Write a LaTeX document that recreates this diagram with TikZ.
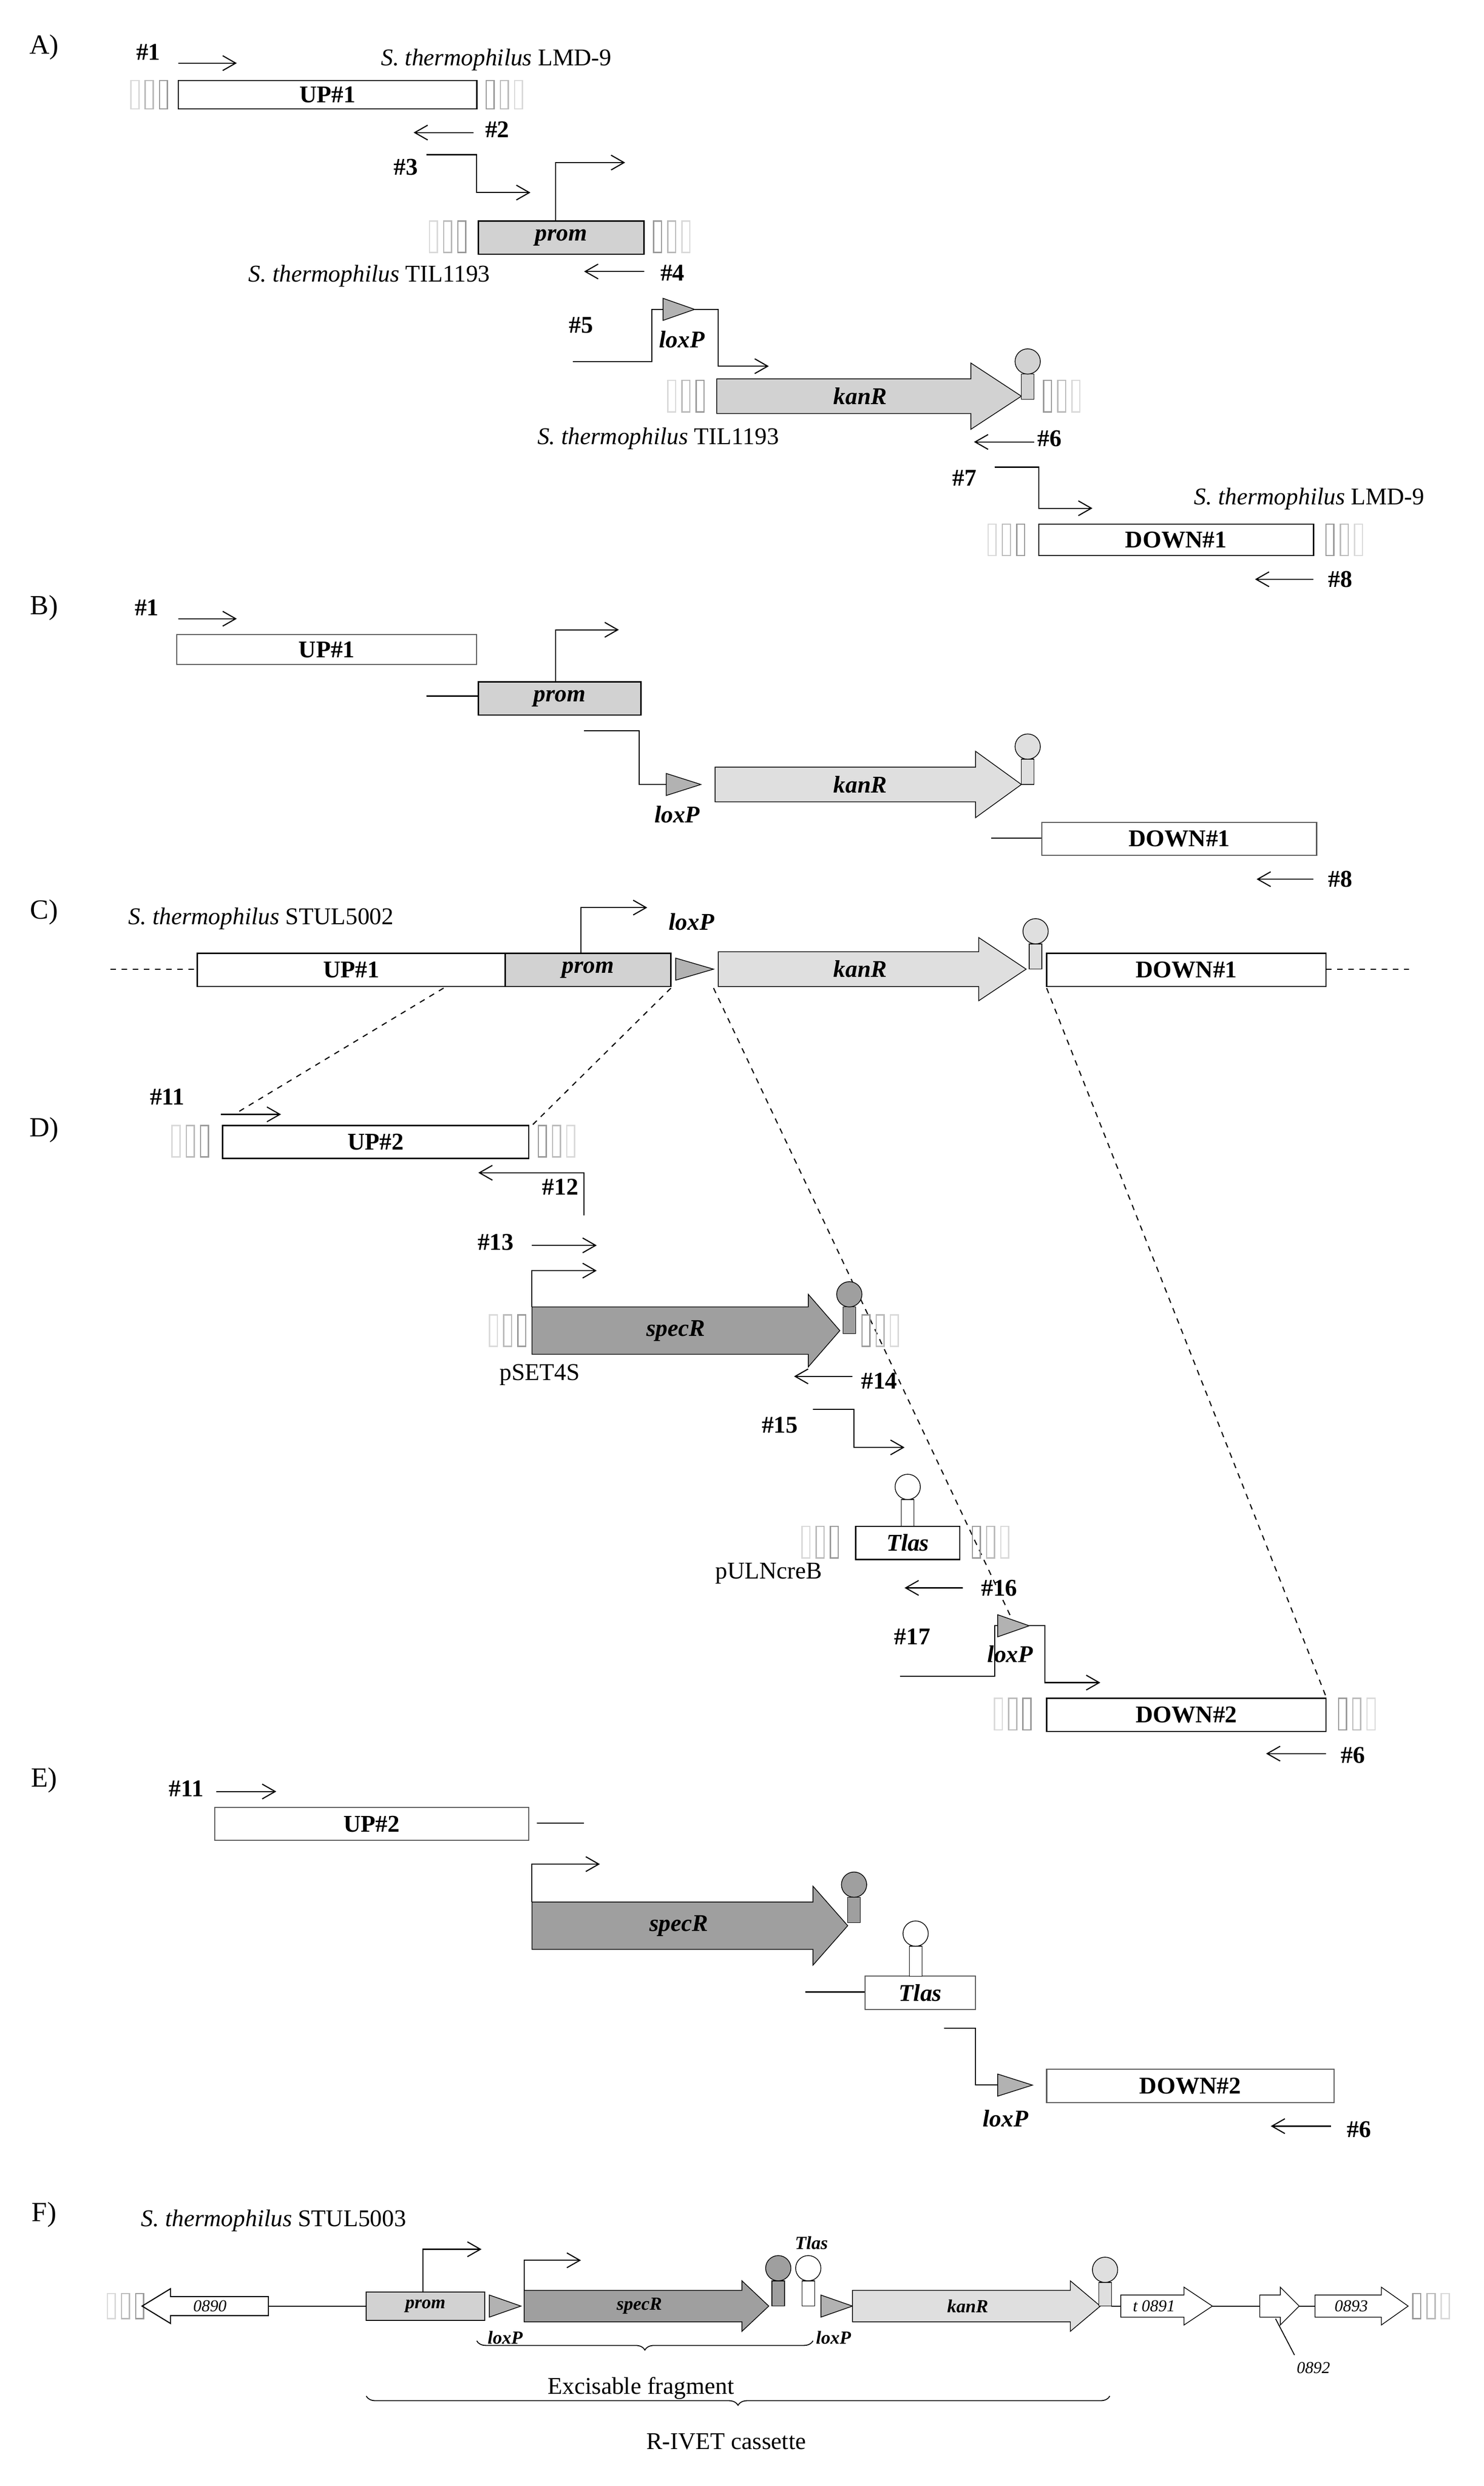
\documentclass[tikz,border=0pt]{standalone}
\usepackage{fontspec}
\setmainfont{Liberation Serif}
\usetikzlibrary{arrows.meta,decorations.pathreplacing}
\newcommand\stripesL[3]{%
 \draw[gray!30,line width=0.7pt] (#1,#2-#3) rectangle ++(5,2*#3);
 \draw[gray!55,line width=0.7pt] (#1+9,#2-#3) rectangle ++(5,2*#3);
 \draw[gray!80,line width=0.7pt] (#1+18,#2-#3) rectangle ++(5,2*#3);}
\newcommand\stripesR[3]{%
 \draw[gray!80,line width=0.7pt] (#1,#2-#3) rectangle ++(5,2*#3);
 \draw[gray!55,line width=0.7pt] (#1+9,#2-#3) rectangle ++(5,2*#3);
 \draw[gray!30,line width=0.7pt] (#1+18,#2-#3) rectangle ++(5,2*#3);}
\newcommand\garrow[7]{\draw[fill=#7] (#1,#4-#5) -- (#2,#4-#5) -- (#2,#4-#6) -- (#3,#4) -- (#2,#4+#6) -- (#2,#4+#5) -- (#1,#4+#5) -- cycle;}
\newcommand\loxp[3][20]{\draw[fill=gray!60] (#2,#3-7) -- (#2+#1,#3) -- (#2,#3+7) -- cycle;}
\newcommand\term[4]{\draw[fill=#3] (#1-4,#2) rectangle (#1+4,#2-#4); \draw[fill=#3] (#1,#2-#4-8) circle (8);}
\tikzset{x=0.03cm,y=-0.03cm,
 pr/.style={-{Straight Barb[length=7pt,width=8pt]},line width=0.6pt},
 ln/.style={line width=0.6pt},
 lab/.style={font=\bfseries\fontsize{13}{15}\selectfont,inner sep=1pt},
 gl/.style={font=\bfseries\itshape\fontsize{13}{15}\selectfont},
 sp/.style={font=\fontsize{13}{15}\selectfont,inner sep=1pt},
 pl/.style={font=\fontsize{15}{17}\selectfont},
 sm/.style={font=\itshape\fontsize{9}{10}\selectfont,inner sep=0pt},
 fg/.style={font=\bfseries\itshape\fontsize{10}{11}\selectfont}}
\begin{document}
\begin{tikzpicture}
\useasboundingbox (0,0) rectangle (940,1575);
\fill[white] (0,0) rectangle (940,1575);
% ================= A
\node[pl] (pA) at (28,30) {A)};
\node[lab] (p1) at (94,33) {\#1};
\draw[pr] (113,40) -- (150,40);
\node[sp,anchor=west] (s1) at (240,38) {\textit{S. thermophilus} LMD-9};
\stripesL{83}{60}{9}\stripesR{308}{60}{9}
\draw[line width=0.7pt] (113,51) rectangle (302,69) node[midway,lab] (up1) {UP\#1};
\draw[pr] (300,84) -- (262,84); \node[lab] (p2) at (315,82) {\#2};
\node[lab] (p3) at (257,106) {\#3};
\draw[pr] (270,98) -- (302,98) -- (302,122) -- (336,122);
\stripesL{272}{150}{10}\stripesR{414}{150}{10}
\draw[line width=0.7pt,fill=gray!35] (303,140) rectangle (408,161) node[midway,gl] (prA) {prom};
\draw[pr] (352,140) -- (352,103) -- (396,103);
\node[sp,anchor=west] (s2) at (156,175) {\textit{S. thermophilus} TIL1193};
\draw[pr] (408,172) -- (370,172); \node[lab] (p4) at (426,173) {\#4};
\node[lab] (p5) at (368,206) {\#5};
\draw[ln] (363,229) -- (413,229) -- (413,196) -- (420,196);
\loxp{420}{196}
\draw[pr] (440,196) -- (455,196) -- (455,232) -- (487,232);
\node[gl] (lxA) at (432,215) {loxP};
\stripesL{423}{251}{10}\stripesR{661}{251}{10}
\garrow{454}{615}{647}{251}{11}{21}{gray!35}
\node[gl] (kA) at (545,251) {kanR};
\term{651}{253}{gray!35}{16}
\node[sp,anchor=west] (s3) at (339,278) {\textit{S. thermophilus} TIL1193};
\draw[pr] (655,280) -- (617,280); \node[lab] (p6) at (665,278) {\#6};
\node[lab] (p7) at (611,303) {\#7};
\draw[pr] (630,296) -- (658,296) -- (658,322) -- (692,322);
\node[sp,anchor=west] (s4) at (755,316) {\textit{S. thermophilus} LMD-9};
\stripesL{626}{342}{10}\stripesR{840}{342}{10}
\draw[line width=0.7pt] (658,332) rectangle (832,352) node[midway,lab] (dn1) {DOWN\#1};
\draw[pr] (832,367) -- (795,367); \node[lab] (p8) at (849,367) {\#8};
% ================= B
\node[pl] (pB) at (28,385) {B)};
\node[lab] (b1) at (93,385) {\#1};
\draw[pr] (113,392) -- (150,392);
\draw[line width=0.6pt,draw=gray!70!black] (112,402) rectangle (302,421) node[midway,lab,text=black] (upB) {UP\#1};
\draw[ln] (270,441) -- (303,441);
\draw[line width=0.7pt,fill=gray!35] (303,432) rectangle (406,453) node[midway,gl] (prB) {prom};
\draw[pr] (352,432) -- (352,399) -- (392,399);
\draw[ln] (370,463) -- (405,463) -- (405,497) -- (422,497);
\loxp[22]{422}{497}
\node[gl] (lxB) at (429,516) {loxP};
\garrow{453}{618}{647}{497}{11}{21}{gray!25}
\node[gl] (kB) at (545,497) {kanR};
\term{651}{497}{gray!25}{16}
\draw[ln] (628,531) -- (660,531);
\draw[line width=0.6pt,draw=gray!70!black] (660,521) rectangle (834,542) node[midway,lab,text=black] (dnB) {DOWN\#1};
\draw[pr] (832,557) -- (796,557); \node[lab] (b8) at (849,557) {\#8};
% ================= C
\node[pl] (pC) at (28,578) {C)};
\node[sp,anchor=west] (s5) at (80,582) {\textit{S. thermophilus} STUL5002};
\draw[ln,dashed] (70,614) -- (125,614);
\draw[ln,dashed] (840,614) -- (893,614);
\draw[line width=0.7pt] (125,604) rectangle (320,625) node[midway,lab] (upC) {UP\#1};
\draw[line width=0.7pt,fill=gray!35] (320,604) rectangle (425,625) node[midway,gl] (prC) {prom};
\loxp[24]{428}{614}
\draw[pr] (368,604) -- (368,575) -- (410,575);
\node[gl] (lxC) at (438,584) {loxP};
\garrow{455}{620}{650}{614}{11}{20}{gray!25}
\node[gl] (kC) at (545,614) {kanR};
\term{656}{614}{gray!25}{16}
\draw[line width=0.7pt] (663,604) rectangle (840,625) node[midway,lab] (dnC) {DOWN\#1};
\draw[ln,dashed] (281,626) -- (150,705);
\draw[ln,dashed] (425,626) -- (337,713);
\draw[ln,dashed] (452,626) -- (643,1030);
\draw[ln,dashed] (663,626) -- (840,1075);
% ================= D
\node[pl] (pD) at (28,716) {D)};
\node[lab] (d11) at (106,695) {\#11};
\draw[pr] (140,706) -- (178,706);
\stripesL{109}{723}{10}\stripesR{341}{723}{10}
\draw[line width=0.7pt] (141,713) rectangle (335,734) node[midway,lab] (up2) {UP\#2};
\draw[pr] (370,770) -- (370,743) -- (303,743); \node[lab] (d12) at (355,752) {\#12};
\node[lab] (d13) at (314,787) {\#13};
\draw[pr] (337,789) -- (378,789);
\stripesL{310}{843}{10}\stripesR{546}{843}{10}
\garrow{337}{512}{532}{843}{15}{23}{gray!75}
\draw[pr] (337,828) -- (337,805) -- (378,805);
\node[gl] (spD) at (428,843) {specR};
\term{538}{845}{gray!75}{17}
\node[sp] (ps) at (342,871) {pSET4S};
\draw[pr] (540,872) -- (503,872); \node[lab] (d14) at (557,875) {\#14};
\node[lab] (d15) at (494,903) {\#15};
\draw[pr] (515,893) -- (541,893) -- (541,917) -- (573,917);
\stripesL{508}{977}{10}\stripesR{616}{977}{10}
\draw[line width=0.7pt] (542,967) rectangle (608,988) node[midway,gl] (tlD) {Tlas};
\term{575}{967}{white}{17}
\node[sp] (pu) at (487,997) {pULNcreB};
\draw[pr] (610,1006) -- (573,1006); \node[lab] (d16) at (633,1006) {\#16};
\node[lab] (d17) at (578,1037) {\#17};
\draw[ln] (570,1062) -- (630,1062) -- (630,1030) -- (632,1030);
\loxp{632}{1030}
\draw[pr] (652,1030) -- (662,1030) -- (662,1066) -- (697,1066);
\node[gl] (lxD) at (640,1048) {loxP};
\stripesL{630}{1086}{10}\stripesR{848}{1086}{10}
\draw[line width=0.7pt] (663,1076) rectangle (840,1097) node[midway,lab] (dn2) {DOWN\#2};
\draw[pr] (840,1111) -- (802,1111); \node[lab] (d6) at (857,1112) {\#6};
% ================= E
\node[pl] (pE) at (28,1128) {E)};
\node[lab] (e11) at (118,1133) {\#11};
\draw[pr] (137,1135) -- (175,1135);
\draw[line width=0.6pt,draw=gray!70!black] (136,1145) rectangle (335,1166) node[midway,lab,text=black] (upE) {UP\#2};
\draw[ln] (340,1155) -- (370,1155);
\garrow{337}{515}{537}{1220}{15}{25}{gray!75}
\draw[pr] (337,1205) -- (337,1181) -- (380,1181);
\node[gl] (spE) at (430,1220) {specR};
\term{541}{1218}{gray!75}{16}
\draw[ln] (510,1262) -- (548,1262);
\draw[line width=0.6pt,draw=gray!70!black] (548,1252) rectangle (618,1273) node[midway,gl,text=black] (tlE) {Tlas};
\term{580}{1252}{white}{19}
\draw[ln] (598,1285) -- (618,1285) -- (618,1321) -- (632,1321);
\loxp[22]{632}{1321}
\node[gl] (lxE) at (637,1342) {loxP};
\draw[line width=0.6pt,draw=gray!70!black] (663,1311) rectangle (845,1332) node[midway,lab,text=black] (dnE) {DOWN\#2};
\draw[pr] (843,1347) -- (805,1347); \node[lab] (e6) at (861,1349) {\#6};
% ================= F
\node[pl] (pF) at (28,1403) {F)};
\node[sp,anchor=west] (s6) at (88,1407) {\textit{S. thermophilus} STUL5003};
\stripesL{68}{1461}{8}
\draw[line width=0.6pt] (170,1455) -- (108,1455) -- (108,1450) -- (90,1461) -- (108,1472) -- (108,1467) -- (170,1467) -- cycle;
\node[sm] (g890) at (133,1461) {0890};
\draw[ln] (170,1461) -- (232,1461);
\draw[line width=0.6pt,fill=gray!35] (232,1452) rectangle (307,1470) node[midway,fg] (prF) {prom};
\draw[pr] (268,1452) -- (268,1425) -- (305,1425);
\loxp{310}{1461}
\node[fg] (lxF1) at (320,1481) {loxP};
\garrow{332}{470}{487}{1461}{10}{16}{gray!75}
\draw[pr] (332,1451) -- (332,1432) -- (368,1432);
\node[fg] (spF) at (405,1461) {specR};
\term{493}{1461}{gray!75}{16}
\term{512}{1461}{white}{16}
\node[fg] (tlF) at (514,1421) {Tlas};
\loxp{520}{1461}
\node[fg] (lxF2) at (528,1481) {loxP};
\garrow{540}{678}{697}{1461}{10}{16}{gray!25}
\node[fg] (kF) at (613,1461) {kanR};
\term{700}{1461}{gray!25}{15}
\draw[ln] (704,1461) -- (710,1461);
\garrow{710}{750}{768}{1461}{7}{12}{white}
\node[sm] (g891) at (731,1461) {t 0891};
\draw[ln] (768,1461) -- (798,1461);
\garrow{798}{811}{823}{1461}{7}{12}{white}
\draw[line width=0.5pt] (808,1469) -- (820,1492);
\node[sm] (g892) at (832,1500) {0892};
\draw[ln] (823,1461) -- (833,1461);
\garrow{833}{875}{892}{1461}{7}{12}{white}
\node[sm] (g893) at (856,1461) {0893};
\stripesR{895}{1461}{8}
\draw[line width=0.5pt,decorate,decoration={brace,mirror,amplitude=5}] (302,1483) -- (515,1483);
\node[sp] (ex) at (406,1513) {Excisable fragment};
\draw[line width=0.5pt,decorate,decoration={brace,mirror,amplitude=5}] (232,1518) -- (703,1518);
\node[sp] (ri) at (460,1547) {R-IVET cassette};
\end{tikzpicture}
\end{document}
